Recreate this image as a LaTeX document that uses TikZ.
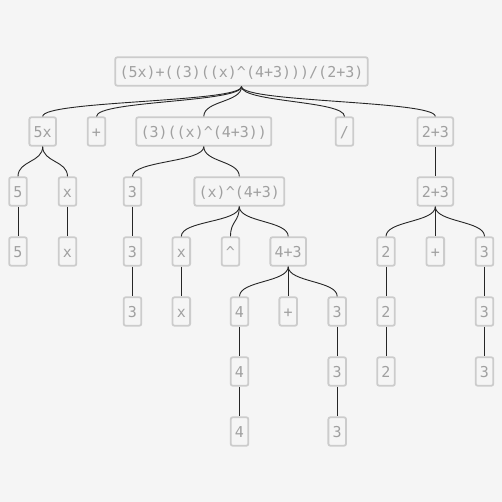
\documentclass[tikz,border=0pt]{standalone}
\usepackage{fontspec}
\setmonofont{DejaVu Sans Mono}
\usetikzlibrary{calc}
\definecolor{paper}{HTML}{F5F5F5}
\definecolor{boxgray}{HTML}{CCCCCC}
\definecolor{textgray}{HTML}{A0A0A0}

\begin{document}
\begin{tikzpicture}[x=1pt, y=-1pt,
    every node/.style={font=\ttfamily\fontsize{15}{15}\selectfont},
    term/.style={draw=boxgray, fill=paper, text=textgray, line width=1.8pt, rounded corners=2pt,
        minimum height=28.4pt, text height=12pt, text depth=0pt, inner xsep=4.3pt, inner ysep=0pt},
    link/.style={draw=black!85, line width=0.9pt}]

    % Levels of the parse tree (pixels, downwards)
    \def\la{71.5}
    \def\lb{131.5}
    \def\lc{191.5}
    \def\ld{251.5}
    \def\le{311.5}
    \def\lf{371.5}
    \def\lg{431.5}

    % Canvas
    \fill[paper] (0,0) rectangle (502,502);
    \useasboundingbox (0,0) rectangle (502,502);

    % Root expression
    \node[term] (root) at (241.5,\la) {(5x)+((3)((x)\^{}(4+3)))/(2+3)};

    % First level
    \node[term] (fivex) at (42.7,\lb) {5x};
    \node[term] (plusA) at (96.5,\lb) {+};
    \node[term] (prod) at (203.8,\lb) {(3)((x)\^{}(4+3))};
    \node[term] (divs) at (344.5,\lb) {/};
    \node[term] (sumA) at (435.3,\lb) {2+3};

    % Left branch 5x
    \node[term] (fiveA) at (18,\lc) {5};
    \node[term] (xA) at (67.5,\lc) {x};
    \node[term] (fiveB) at (18,\ld) {5};
    \node[term] (xB) at (67.5,\ld) {x};

    % Product branch
    \node[term] (threeA) at (132.5,\lc) {3};
    \node[term] (threeB) at (132.5,\ld) {3};
    \node[term] (threeC) at (132.5,\le) {3};
    \node[term] (pow) at (239.3,\lc) {(x)\^{}(4+3)};
    \node[term] (xC) at (181.3,\ld) {x};
    \node[term] (hat) at (230.5,\ld) {\^{}};
    \node[term] (sumB) at (288.2,\ld) {4+3};
    \node[term] (xD) at (181.3,\le) {x};

    % Exponent 4+3
    \node[term] (fourA) at (239.5,\le) {4};
    \node[term] (plusB) at (288.2,\le) {+};
    \node[term] (threeD) at (337.2,\le) {3};
    \node[term] (fourB) at (239.5,\lf) {4};
    \node[term] (threeE) at (337.2,\lf) {3};
    \node[term] (fourC) at (239.5,\lg) {4};
    \node[term] (threeF) at (337.2,\lg) {3};

    % Denominator 2+3
    \node[term] (sumC) at (435.3,\lc) {2+3};
    \node[term] (twoA) at (386,\ld) {2};
    \node[term] (plusC) at (435.3,\ld) {+};
    \node[term] (threeG) at (484.5,\ld) {3};
    \node[term] (twoB) at (386,\le) {2};
    \node[term] (threeH) at (484.5,\le) {3};
    \node[term] (twoC) at (386,\lf) {2};
    \node[term] (threeI) at (484.5,\lf) {3};

    % Links, parent bottom to child top
    \foreach \p/\c in {root/fivex, root/plusA, root/prod, root/divs, root/sumA,
        fivex/fiveA, fivex/xA, fiveA/fiveB, xA/xB,
        prod/threeA, prod/pow, threeA/threeB, threeB/threeC,
        pow/xC, pow/hat, pow/sumB, xC/xD,
        sumB/fourA, sumB/plusB, sumB/threeD, fourA/fourB, fourB/fourC, threeD/threeE, threeE/threeF,
        sumA/sumC, sumC/twoA, sumC/plusC, sumC/threeG, twoA/twoB, twoB/twoC, threeG/threeH, threeH/threeI}
        \draw[link] (\p.south) .. controls +(0,15.8) and +(0,-15.8) .. (\c.north);

\end{tikzpicture}
\end{document}
